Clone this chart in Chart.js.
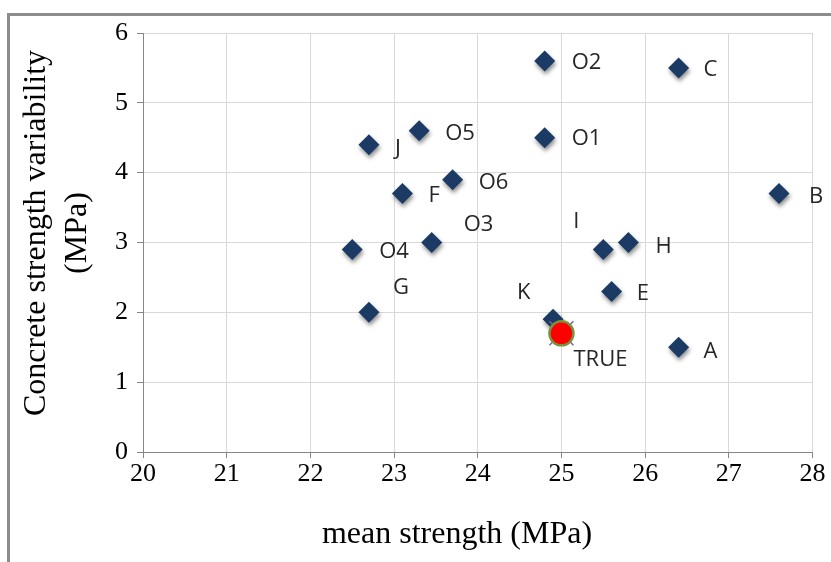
<!DOCTYPE html>
<html>
<head>
<meta charset="utf-8">
<script src="https://cdn.jsdelivr.net/npm/chart.js@4.4.1/dist/chart.umd.min.js"></script>
<style>
  html, body { margin: 0; padding: 0; background: #fff; }
  #wrap { position: relative; width: 831px; height: 562px; overflow: hidden; }
  #frame { position: absolute; left: 7px; top: 13px; width: 900px; height: 600px; border: 3px solid #8c8c8c; box-sizing: border-box; }
  canvas { position: absolute; left: 0; top: 0; }
</style>
</head>
<body>
<div id="wrap">
  <div id="frame"></div>
  <canvas id="scatterChart" width="831" height="562"></canvas>
</div>
<script>
// mixes
const mixNames = ["O2", "C", "O5", "J", "O1", "O6", "F", "B", "O3", "O4", "I", "H", "E", "G", "K", "A"];
const meanStrength = [24.8, 26.4, 23.3, 22.7, 24.8, 23.7, 23.1, 27.6, 23.45, 22.5, 25.5, 25.8, 25.6, 22.7, 24.9, 26.4];
const variability = [5.6, 5.5, 4.6, 4.4, 4.5, 3.9, 3.7, 3.7, 3.0, 2.9, 2.9, 3.0, 2.3, 2.0, 1.9, 1.5];

// true value
const trueName = "TRUE";
const trueMean = [25.0];
const trueVariability = [1.7];

// axis ticks
const xTicks = [20, 21, 22, 23, 24, 25, 26, 27, 28];
const yTicks = [0, 1, 2, 3, 4, 5, 6];

// where each label sits relative to its marker (px)
const labelOffset = {
  O2: [27, 2], C: [25, 2], O5: [26, 3], J: [26, 4], O1: [27, 1], O6: [26, 3],
  F: [26, 2], B: [30, 3], O3: [32, -18], O4: [27, 2], I: [-30, -28], H: [27, 4],
  E: [25, 2], G: [24, -25], K: [-36, -27], A: [25, 4], TRUE: [12, 26]
};

const serif = "'Liberation Serif', serif";

const toXY = (xs, ys) => xs.map((x, i) => ({ x: x, y: ys[i] }));

// shadow under the diamonds
const shadowPlugin = {
  id: "shadow",
  beforeDatasetDraw(chart, args) {
    if (args.index !== 0) return;
    const ctx = chart.ctx;
    ctx.save();
    ctx.shadowColor = "rgba(0,0,0,0.45)";
    ctx.shadowBlur = 4;
    ctx.shadowOffsetX = 1;
    ctx.shadowOffsetY = 3;
  },
  afterDatasetDraw(chart, args) {
    if (args.index !== 0) return;
    chart.ctx.restore();
  }
};

// point labels + axis titles
const labelPlugin = {
  id: "labels",
  afterDraw(chart) {
    const ctx = chart.ctx;
    ctx.save();
    ctx.font = "22px 'Open Sans', sans-serif";
    ctx.fillStyle = "#262626";
    ctx.textAlign = "left";
    ctx.textBaseline = "middle";
    chart.getDatasetMeta(0).data.forEach((pt, i) => {
      const off = labelOffset[mixNames[i]];
      ctx.fillText(mixNames[i], pt.x + off[0], pt.y + off[1]);
    });
    const tp = chart.getDatasetMeta(2).data[0];
    ctx.fillText(trueName, tp.x + labelOffset.TRUE[0], tp.y + labelOffset.TRUE[1]);

    ctx.fillStyle = "#000";
    ctx.font = "32px " + serif;
    ctx.textAlign = "center";
    ctx.fillText("mean strength (MPa)", 457, 535);

    ctx.translate(37, 233);
    ctx.rotate(-Math.PI / 2);
    ctx.fillText("Concrete strength variability", 0, 0);
    ctx.fillText("(MPa)", 0, 41);
    ctx.restore();
  }
};

const sc = document.getElementById("scatterChart");
new Chart(sc, {
  type: "scatter",
  data: {
    datasets: [
      {
        label: "mixes",
        data: toXY(meanStrength, variability),
        pointStyle: "rectRot",
        pointRadius: 10.5,
        pointHoverRadius: 10.5,
        backgroundColor: "#1b3a64",
        borderWidth: 0,
        order: 2
      },
      {
        label: "true cross",
        data: toXY(trueMean, trueVariability),
        pointStyle: "crossRot",
        pointRadius: 17,
        pointHoverRadius: 17,
        borderColor: "#8064a2",
        borderWidth: 1.5,
        order: 1
      },
      {
        label: trueName,
        data: toXY(trueMean, trueVariability),
        pointStyle: "circle",
        pointRadius: 12,
        pointHoverRadius: 12,
        backgroundColor: "#ff0000",
        borderColor: "#77933c",
        borderWidth: 2.5,
        order: 0
      }
    ]
  },
  options: {
    responsive: false,
    animation: false,
    events: [],
    layout: { padding: { top: 33, right: 18, bottom: 0, left: 0 } },
    plugins: {
      legend: { display: false },
      tooltip: { enabled: false }
    },
    scales: {
      x: {
        type: "linear",
        min: xTicks[0],
        max: xTicks[xTicks.length - 1],
        afterBuildTicks: (s) => { s.ticks = xTicks.map(v => ({ value: v })); },
        afterFit: (s) => { s.height = 110; },
        grid: { color: "#d9d9d9", tickColor: "#868686", tickLength: 6 },
        border: { color: "#868686" },
        ticks: { color: "#000", font: { family: serif, size: 26 }, padding: 1, maxRotation: 0 }
      },
      y: {
        type: "linear",
        min: yTicks[0],
        max: yTicks[yTicks.length - 1],
        afterBuildTicks: (s) => { s.ticks = yTicks.map(v => ({ value: v })); },
        afterFit: (s) => { s.width = 143; },
        grid: { color: "#d9d9d9", tickColor: "#868686", tickLength: 6 },
        border: { color: "#868686" },
        ticks: { color: "#000", font: { family: serif, size: 26 }, padding: 9 }
      }
    }
  },
  plugins: [shadowPlugin, labelPlugin]
});
</script>
</body>
</html>
